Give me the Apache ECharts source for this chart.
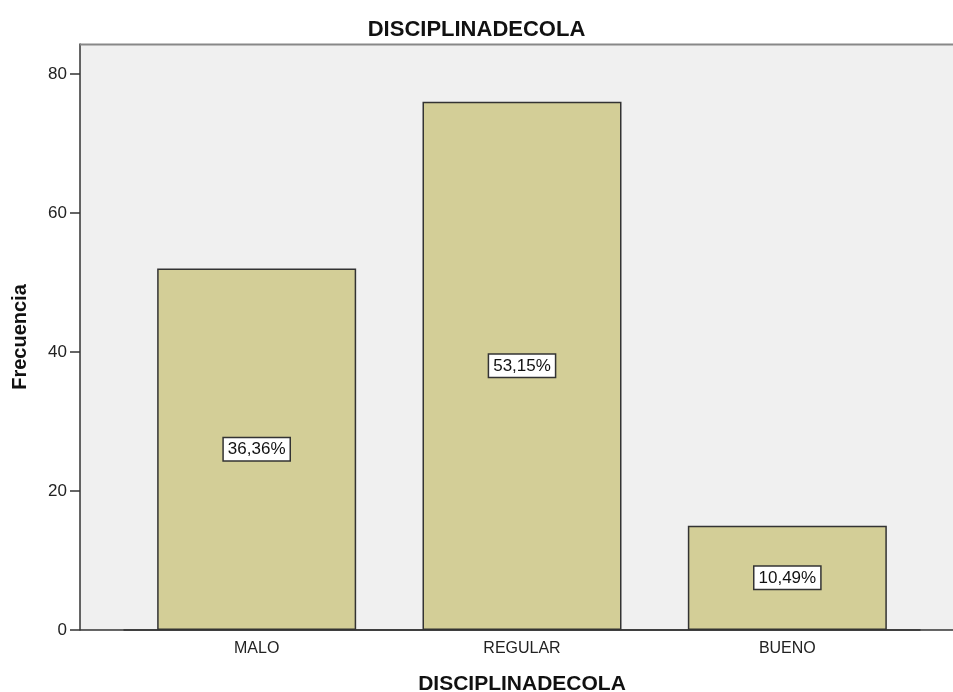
<!DOCTYPE html>
<html>
<head>
<meta charset="utf-8">
<script src="https://cdn.jsdelivr.net/npm/echarts@6/dist/echarts.min.js"></script>
<style>
  html, body { margin: 0; padding: 0; background: #fff; }
  #chart { width: 953px; height: 692px; }
</style>
</head>
<body>
<div id="chart"></div>
<script>
const categories = ['MALO', 'REGULAR', 'BUENO'];
const frequencies = [52, 76, 15];
const percentLabels = ['36,36%', '53,15%', '10,49%'];

const chart = echarts.init(document.getElementById('chart'));
const font = 'Liberation Sans, Arial, sans-serif';

const option = {
  animation: false,
  title: {
    text: 'DISCIPLINADECOLA',
    left: 'center',
    top: 14,
    textStyle: { fontFamily: font, fontSize: 22, fontWeight: 'bold', color: '#111' }
  },
  // panel background + frame lines (not data)
  graphic: [
    { type: 'rect', shape: { x: 80, y: 44, width: 873, height: 586 }, style: { fill: '#f0f0f0' }, z: -10 },
    { type: 'line', shape: { x1: 80, y1: 44.5, x2: 953, y2: 44.5 }, style: { stroke: '#888', lineWidth: 2 }, z: 1 },
    { type: 'line', shape: { x1: 80, y1: 630, x2: 953, y2: 630 }, style: { stroke: '#333', lineWidth: 1.5 }, z: 1 }
  ],
  grid: { left: 124, right: 33, top: 44, bottom: 62, outerBoundsMode: 'none', containLabel: false },
  xAxis: {
    type: 'category',
    data: categories,
    name: 'DISCIPLINADECOLA',
    nameLocation: 'middle',
    nameGap: 44,
    nameTextStyle: { fontFamily: font, fontSize: 21, fontWeight: 'bold', color: '#111' },
    axisLine: { lineStyle: { color: '#333', width: 1.5 } },
    axisTick: { alignWithLabel: true, length: 7, lineStyle: { color: '#333', width: 1.5 } },
    axisLabel: { fontFamily: font, fontSize: 16, color: '#222', margin: 11 }
  },
  yAxis: {
    type: 'value',
    min: 0,
    max: 84.3,
    interval: 20,
    offset: 44,
    name: 'Frecuencia',
    nameLocation: 'middle',
    nameGap: 50,
    nameRotate: 90,
    nameTextStyle: { fontFamily: font, fontSize: 20, fontWeight: 'bold', color: '#111' },
    axisLine: { show: true, lineStyle: { color: '#333', width: 1.5 } },
    axisTick: { show: true, length: 10, lineStyle: { color: '#333', width: 1.5 } },
    axisLabel: { fontFamily: font, fontSize: 17, color: '#222', margin: 13, showMaxLabel: false },
    splitLine: { show: false }
  },
  series: [{
    type: 'bar',
    data: frequencies,
    barWidth: 199,
    itemStyle: { color: '#d3ce97', borderColor: '#333', borderWidth: 1.5 },
    label: {
      show: true,
      position: 'inside',
      formatter: (p) => percentLabels[p.dataIndex],
      fontFamily: font,
      fontSize: 17,
      color: '#111',
      backgroundColor: '#fff',
      borderColor: '#333',
      borderWidth: 1.5,
      padding: [3, 4, 2, 4]
    }
  }]
};

chart.setOption(option);
</script>
</body>
</html>
